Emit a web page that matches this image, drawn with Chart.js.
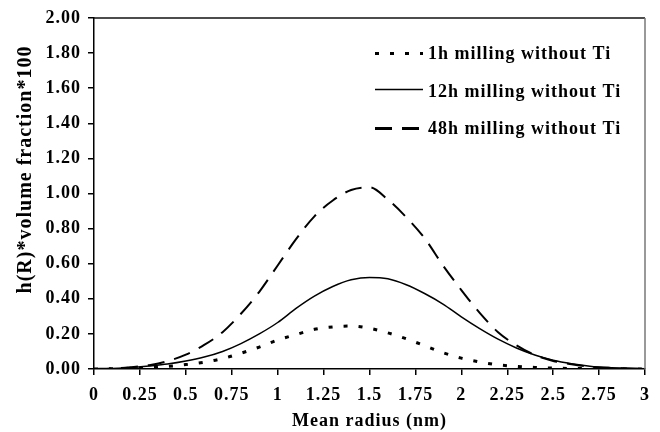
<!DOCTYPE html>
<html>
<head>
<meta charset="utf-8">
<script src="https://cdn.jsdelivr.net/npm/chart.js@4.4.1/dist/chart.umd.min.js"></script>
<style>
  html, body { margin: 0; padding: 0; background: #fff; }
  #wrap { width: 660px; height: 432px; }
</style>
</head>
<body>
<div id="wrap"><canvas id="sizeChart" width="660" height="432"></canvas></div>
<script>
// mean radius (nm), read every 0.1 nm off the curves
const radius = [0, 0.1, 0.2, 0.3, 0.4, 0.5, 0.6, 0.7, 0.8, 0.9, 1.0, 1.1, 1.2, 1.3, 1.4, 1.5,
  1.6, 1.7, 1.8, 1.9, 2.0, 2.1, 2.2, 2.3, 2.4, 2.5, 2.6, 2.7, 2.8, 2.9, 3.0];

// h(R)*volume fraction*100
const h1 = [0, 0.002, 0.004, 0.008, 0.015, 0.025, 0.039, 0.059, 0.09, 0.125, 0.165, 0.196, 0.226,
  0.240, 0.245, 0.232, 0.206, 0.172, 0.133, 0.093, 0.062, 0.040, 0.024, 0.015, 0.009, 0.005,
  0.003, 0.002, 0.001, 0, 0];
const h12 = [0, 0.003, 0.008, 0.017, 0.028, 0.045, 0.068, 0.10, 0.145, 0.20, 0.265, 0.345, 0.415,
  0.470, 0.508, 0.522, 0.514, 0.48, 0.43, 0.37, 0.297, 0.23, 0.17, 0.12, 0.08, 0.05, 0.03,
  0.016, 0.008, 0.004, 0.002];
const h48 = [0, 0.003, 0.010, 0.022, 0.045, 0.082, 0.137, 0.21, 0.315, 0.44, 0.59, 0.74, 0.87,
  0.96, 1.02, 1.035, 0.965, 0.865, 0.745, 0.59, 0.45, 0.32, 0.21, 0.135, 0.08, 0.046, 0.027,
  0.014, 0.007, 0.003, 0.001];

const seriesNames = ['1h milling without Ti', '12h milling without Ti', '48h milling without Ti'];
const xTickLabels = ['0', '0.25', '0.5', '0.75', '1', '1.25', '1.5', '1.75', '2', '2.25', '2.5', '2.75', '3'];
const yTickLabels = ['0.00', '0.20', '0.40', '0.60', '0.80', '1.00', '1.20', '1.40', '1.60', '1.80', '2.00'];

const serif = '"Liberation Serif", "Times New Roman", serif';

function points(values) {
  return radius.map((r, i) => ({ x: r, y: values[i] }));
}

// the original text is a bit wide, so space the letters out a little
const spacing = {
  id: 'spacing',
  beforeLayout(chart) { chart.ctx.letterSpacing = '1px'; },
  beforeDraw(chart) { chart.ctx.letterSpacing = '1px'; }
};

// box round the plot: top and right edges
const frame = {
  id: 'frame',
  afterDatasetsDraw(chart) {
    const { ctx, chartArea: a } = chart;
    ctx.save();
    ctx.lineWidth = 1.5;
    ctx.strokeStyle = '#111';
    ctx.beginPath();
    ctx.moveTo(a.left, a.top);
    ctx.lineTo(a.right, a.top);
    ctx.stroke();
    ctx.strokeStyle = '#777';
    ctx.beginPath();
    ctx.moveTo(a.right, a.top);
    ctx.lineTo(a.right, a.bottom);
    ctx.stroke();
    ctx.restore();
  }
};

// legend sits inside the plot, top right
const legendLineY = [53.5, 89.5, 128.5];
const legendTextY = [54, 92, 129.5];
const inlineLegend = {
  id: 'inlineLegend',
  afterDraw(chart) {
    const ctx = chart.ctx;
    chart.data.datasets.forEach((ds, i) => {
      ctx.save();
      ctx.strokeStyle = ds.borderColor;
      ctx.lineWidth = ds.legendWidth;
      ctx.setLineDash(ds.borderDash || []);
      ctx.beginPath();
      ctx.moveTo(375, legendLineY[i]);
      ctx.lineTo(423, legendLineY[i]);
      ctx.stroke();
      ctx.setLineDash([]);
      ctx.fillStyle = '#000';
      ctx.font = 'bold 18px ' + serif;
      ctx.textBaseline = 'middle';
      ctx.fillText(ds.label, 428, legendTextY[i]);
      ctx.restore();
    });
  }
};

new Chart(document.getElementById('sizeChart'), {
  type: 'line',
  data: {
    datasets: [
      {
        label: seriesNames[0],
        data: points(h1),
        borderColor: '#000',
        borderWidth: 3,
        legendWidth: 3,
        borderDash: [4, 11],
        pointRadius: 0,
        cubicInterpolationMode: 'monotone'
      },
      {
        label: seriesNames[1],
        data: points(h12),
        borderColor: '#000',
        borderWidth: 1.5,
        legendWidth: 1.5,
        pointRadius: 0,
        cubicInterpolationMode: 'monotone'
      },
      {
        label: seriesNames[2],
        data: points(h48),
        borderColor: '#000',
        borderWidth: 2,
        legendWidth: 3,
        borderDash: [17, 10],
        pointRadius: 0,
        cubicInterpolationMode: 'monotone'
      }
    ]
  },
  options: {
    responsive: false,
    animation: false,
    devicePixelRatio: 1,
    layout: { padding: { top: 18, right: 5, left: 0, bottom: 0 } },
    plugins: {
      legend: { display: false },
      tooltip: { enabled: false }
    },
    scales: {
      x: {
        type: 'linear',
        min: 0,
        max: 3,
        afterFit(scale) { scale.height = 63; },
        border: { color: '#000', width: 1.5 },
        grid: { drawOnChartArea: false, drawTicks: true, tickLength: 6, color: '#000', lineWidth: 1.5 },
        ticks: {
          stepSize: 0.25,
          autoSkip: false,
          maxRotation: 0,
          padding: 10,
          color: '#000',
          font: { family: serif, size: 18, weight: 'bold' },
          callback: (v, i) => xTickLabels[i]
        },
        title: {
          display: true,
          text: 'Mean radius (nm)',
          color: '#000',
          font: { family: serif, size: 18, weight: 'bold' },
          padding: { top: 0, bottom: 0 }
        }
      },
      y: {
        min: 0,
        max: 2,
        afterFit(scale) { scale.width = 94; },
        border: { color: '#000', width: 1.5 },
        grid: { drawOnChartArea: false, drawTicks: true, tickLength: 6, color: '#000', lineWidth: 1.5 },
        ticks: {
          stepSize: 0.2,
          padding: 7,
          color: '#000',
          font: { family: serif, size: 18, weight: 'bold' },
          callback: (v, i) => yTickLabels[i]
        },
        title: {
          display: true,
          text: '        h(R)*volume fraction*100',
          color: '#000',
          font: { family: serif, size: 20, weight: 'bold' },
          padding: { top: 14, bottom: 0 }
        }
      }
    }
  },
  plugins: [spacing, frame, inlineLegend]
});
</script>
</body>
</html>
